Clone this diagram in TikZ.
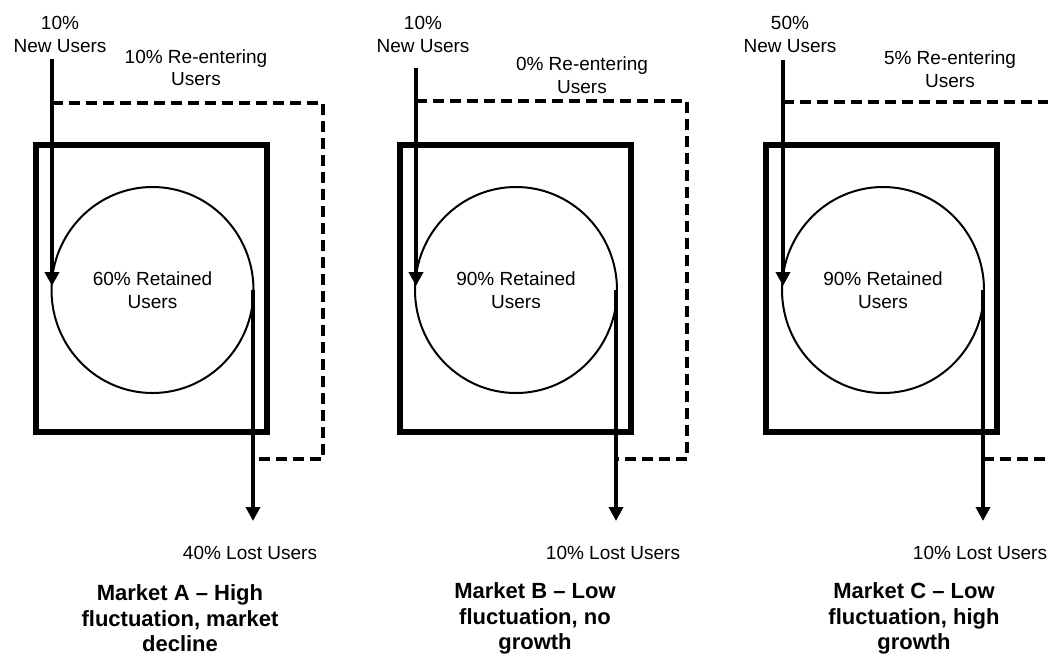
\documentclass[tikz,border=0pt]{standalone}
\usepackage{fontspec}
\setmainfont{Liberation Sans}
\usetikzlibrary{arrows.meta,shapes.geometric}
\newcommand{\lblfont}{\fontsize{19}{22.5}\selectfont}
\newcommand{\ttlfont}{\fontsize{22}{25.5}\selectfont\bfseries}
\begin{document}
\begin{tikzpicture}[x=1pt,y=-1pt,
  frame/.style={draw, line width=6pt, inner sep=0pt, minimum width=231pt, minimum height=287pt},
  pool/.style={draw, ellipse, line width=2pt, minimum width=202pt, minimum height=206pt, inner sep=0pt, align=center, font=\lblfont},
  lbl/.style={align=center, inner sep=0pt, font=\lblfont},
  ttl/.style={align=center, inner sep=0pt, font=\ttlfont},
  flow/.style={line width=4pt, -{Triangle[width=14pt,length=14pt]}},
  back/.style={line width=4pt, dash pattern=on 11pt off 6pt, line join=miter}]
\useasboundingbox (0,0) rectangle (1048,659);
\clip (0,0) rectangle (1048,659);
\fill[white] (0,0) rectangle (1048,659);

% ---------------- Market A ----------------
\node[frame] (boxA) at (151.5,288.5) {};
\node[pool] (poolA) at (152.5,290) {60\% Retained\\Users};
\node[lbl] (newA) at (60,34.5) {10\%\\New Users};
\node[lbl] (reA) at (196,67.5) {10\% Re-entering\\Users};
\node[lbl, anchor=base] (lostA) at (250,559) {40\% Lost Users};
\node[ttl] (titleA) at (180,618.5) {Market A – High\\fluctuation, market\\decline};
\coordinate (inA) at (52,59);
\coordinate (tipA) at (52,286);
\coordinate (outA) at (253,290);
\coordinate (endA) at (253,521);
\coordinate (ra1) at (52,103);
\coordinate (ra2) at (323,103);
\coordinate (ra3) at (323,459);
\coordinate (ra4) at (253,459);
\draw[back] (ra1) -- (ra2) -- (ra3) -- (ra4);
\draw[flow] (inA) -- (tipA);
\draw[flow] (outA) -- (endA);

% ---------------- Market B ----------------
\node[frame] (boxB) at (515,288.5) {};
\node[pool] (poolB) at (516,290) {90\% Retained\\Users};
\node[lbl] (newB) at (423,34.5) {10\%\\New Users};
\node[lbl] (reB) at (582,75) {0\% Re-entering\\Users};
\node[lbl, anchor=base] (lostB) at (613,559) {10\% Lost Users};
\node[ttl] (titleB) at (535,618.5) {Market B – Low\\fluctuation, no\\growth};
\coordinate (inB) at (416,68);
\coordinate (tipB) at (416,286);
\coordinate (outB) at (616,290);
\coordinate (endB) at (616,521);
\coordinate (rb1) at (416,101);
\coordinate (rb2) at (687,101);
\coordinate (rb3) at (687,459);
\coordinate (rb4) at (616,459);
\draw[back] (rb1) -- (rb2) -- (rb3) -- (rb4);
\draw[flow] (inB) -- (tipB);
\draw[flow] (outB) -- (endB);

% ---------------- Market C ----------------
\node[frame] (boxC) at (881,288.5) {};
\node[pool] (poolC) at (883,290) {90\% Retained\\Users};
\node[lbl] (newC) at (790,34.5) {50\%\\New Users};
\node[lbl] (reC) at (950,69) {5\% Re-entering\\Users};
\node[lbl, anchor=base] (lostC) at (980,559) {10\% Lost Users};
\node[ttl] (titleC) at (914,618.5) {Market C – Low\\fluctuation, high\\growth};
\coordinate (inC) at (783,60);
\coordinate (tipC) at (783,286);
\coordinate (outC) at (983,290);
\coordinate (endC) at (983,521);
\coordinate (rc1) at (783,102);
\coordinate (rc2) at (1060,102);
\coordinate (rc3) at (1060,459);
\coordinate (rc4) at (983,459);
\draw[back] (rc1) -- (rc2);
\draw[back] (rc4) -- (rc3);
\draw[flow] (inC) -- (tipC);
\draw[flow] (outC) -- (endC);
\end{tikzpicture}
\end{document}
